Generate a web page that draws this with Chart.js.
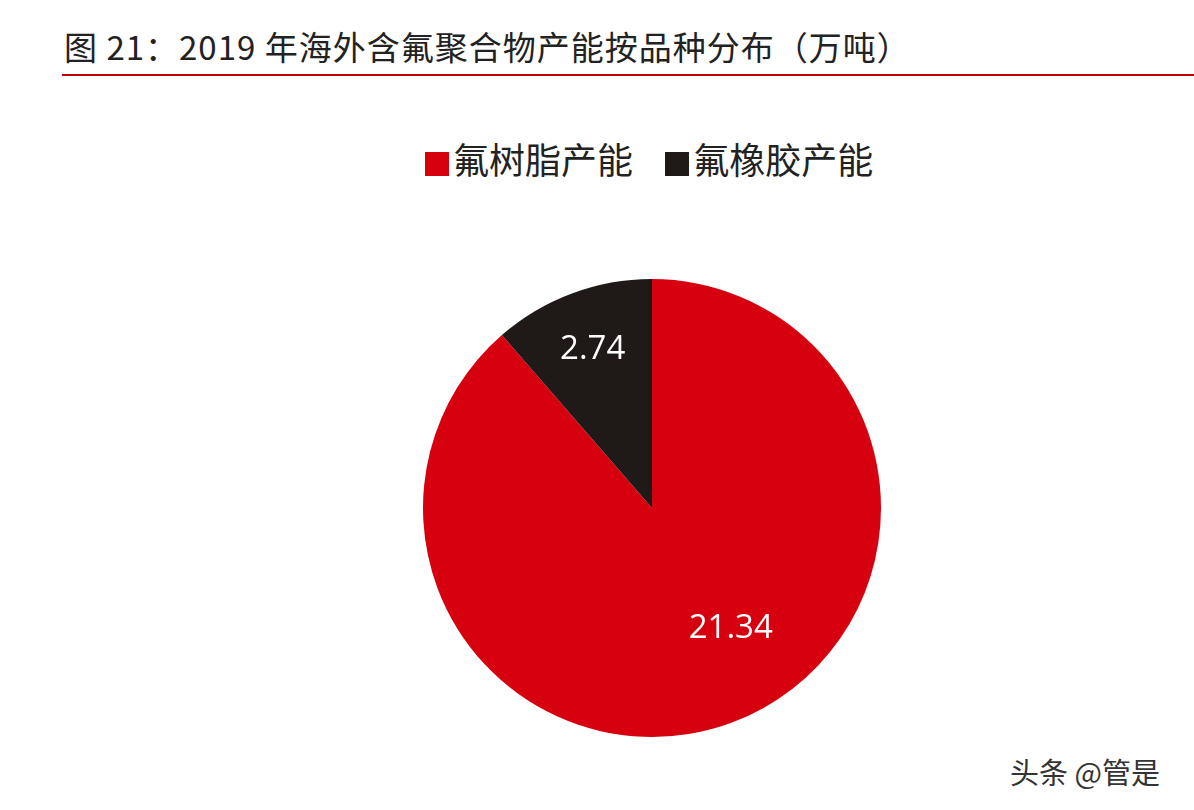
<!DOCTYPE html>
<html><head><meta charset="utf-8">
<script src="https://cdn.jsdelivr.net/npm/chart.js@4"></script>
<style>
body{margin:0;width:1194px;height:810px;background:#fff;position:relative;overflow:hidden;font-family:"Noto Sans CJK SC","Noto Sans",sans-serif;}
#title{position:absolute;left:64px;top:22px;font-size:33px;color:#222;letter-spacing:1px}
#rule{position:absolute;left:62px;top:74px;width:1132px;height:2px;background:#c00000}
#legend{position:absolute;top:132px;left:425px;font-size:36px;color:#222;white-space:nowrap}
#legend span.b{display:inline-block;width:24px;height:24px;margin-right:4px;vertical-align:-2px}
#wrap{position:absolute;left:423px;top:279px;width:458px;height:458px}
#wm{position:absolute;left:1010px;bottom:18px;font-size:29px;color:#333}
</style></head><body>
<div id="title">图 21：2019 年海外含氟聚合物产能按品种分布（万吨）</div>
<div id="rule"></div>
<div id="legend"><span class="b" style="background:#d7000f"></span>氟树脂产能&nbsp;&nbsp;&nbsp;&nbsp;<span class="b" style="background:#1f1a17"></span>氟橡胶产能</div>
<div id="wrap"><canvas id="c"></canvas></div>
<div id="wm">头条 @管是</div>
<script>
const categories = ['氟树脂产能', '氟橡胶产能'];
const values = [21.34, 2.74];
const colors = ['#d7000f', '#1f1a17'];

const labelPlugin = {
  id: 'sliceLabels',
  afterDatasetsDraw(chart) {
    const ctx = chart.ctx;
    const meta = chart.getDatasetMeta(0);
    const dist = [0.63, 0.74];
    ctx.save();
    ctx.fillStyle = '#fff';
    ctx.font = '33px "Open Sans", "Noto Sans", sans-serif';
    ctx.textAlign = 'center';
    ctx.textBaseline = 'middle';
    meta.data.forEach((arc, i) => {
      const mid = (arc.startAngle + arc.endAngle) / 2 + (i === 0 ? -0.22 : 0);
      const r = arc.outerRadius * dist[i];
      ctx.fillText(values[i].toFixed(2), arc.x + Math.cos(mid) * r, arc.y + Math.sin(mid) * r);
    });
    ctx.restore();
  }
};

new Chart(document.getElementById('c'), {
  type: 'pie',
  data: { labels: categories, datasets: [{ data: values, backgroundColor: colors, borderWidth: 0 }] },
  options: {
    responsive: true, maintainAspectRatio: false, animation: false,
    plugins: { legend: { display: false }, tooltip: { enabled: false } }
  },
  plugins: [labelPlugin]
});
</script>
</body></html>
